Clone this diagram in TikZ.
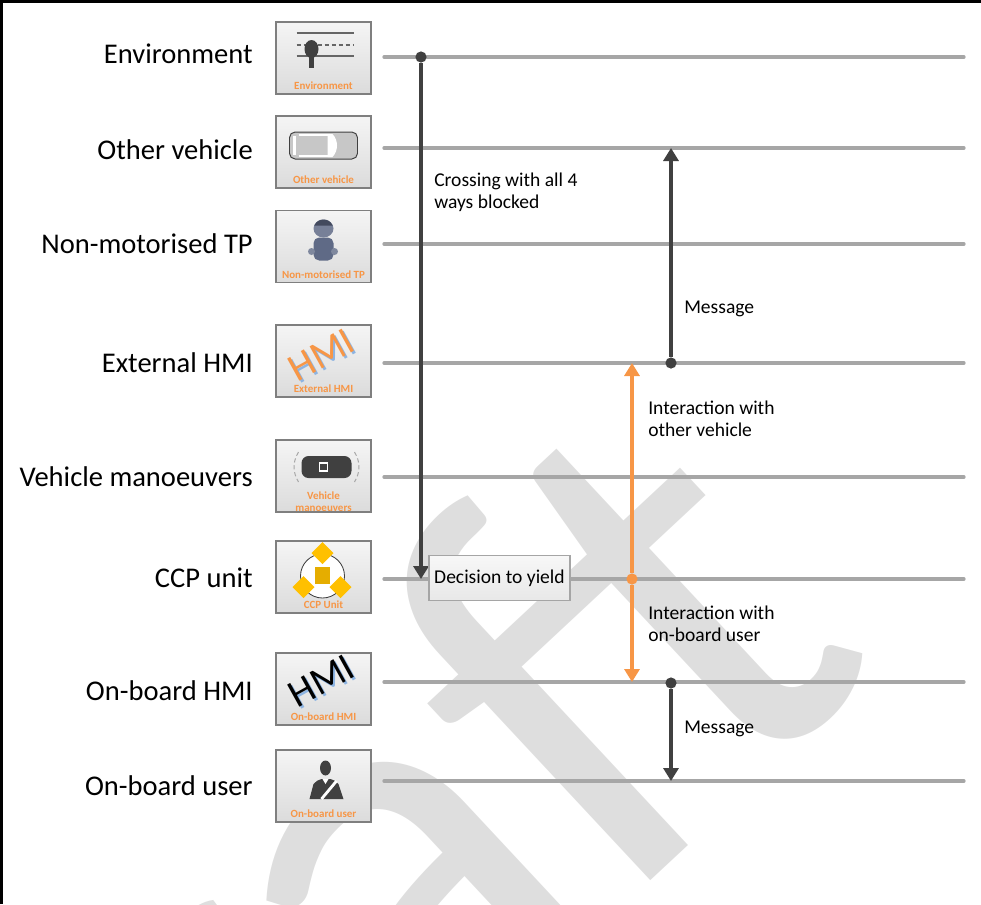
\documentclass[tikz,border=0pt]{standalone}
\usepackage{fontspec}
\setmainfont{Carlito}
\usetikzlibrary{arrows.meta,positioning}

\definecolor{lanegray}{HTML}{A6A6A6}
\definecolor{darkline}{HTML}{404040}
\definecolor{accentorange}{HTML}{F79646}
\definecolor{watergray}{HTML}{DEDEDE}
\definecolor{boxedge}{HTML}{7F7F7F}
\definecolor{ccpyellow}{HTML}{FFC000}
\definecolor{pedblue}{HTML}{5F6A86}
\definecolor{hmiblue}{HTML}{8DB4E2}

\tikzset{
  lane/.style={line width=2.3pt, color=lanegray, line cap=round},
  icobox/.style={draw=boxedge, line width=1.1pt, top color=white!96!black, bottom color=white!86!black, minimum width=2.375cm, minimum height=1.8cm, inner sep=0pt},
  lanelbl/.style={font=\fontsize{20.3}{24}\selectfont, inner sep=0pt, text height=0.7em, text depth=0pt, anchor=east},
  icolbl/.style={font=\fontsize{7.8}{8.4}\selectfont\bfseries, text=accentorange, inner sep=0pt, align=center},
  note/.style={font=\fontsize{13.9}{15.6}\selectfont, align=left, inner sep=0pt},
  hmitext/.style={font=\fontsize{28}{28}\selectfont, inner sep=0pt},
  icoline/.style={line width=0.8pt, color=darkline!80},
  darrow/.style={line width=2.7pt, color=darkline, -{Triangle[length=0.325cm,width=0.375cm]}},
  oarrow/.style={line width=2.4pt, color=accentorange, -{Triangle[length=0.325cm,width=0.375cm]}},
  ddot/.style={circle, fill=darkline, minimum size=0.28cm, inner sep=0pt},
  odot/.style={circle, fill=accentorange, minimum size=0.28cm, inner sep=0pt},
  decbox/.style={draw=boxedge!70, line width=0.9pt, top color=white!97!black, bottom color=white!91!black, minimum width=3.525cm, minimum height=1.125cm, font=\fontsize{13.9}{15.6}\selectfont},
  watermark/.style={font=\fontsize{427}{427}\selectfont, text=watergray, inner sep=0pt}
}

\begin{document}
\begin{tikzpicture}[x=0.025cm, y=-0.025cm]
  \useasboundingbox (0,0) rectangle (981,904);
  \clip (0,0) rectangle (981,904);

  % watermark behind everything
  \node[watermark, rotate=43, anchor=base east] (wm) at (885,662) {Draft};

  % frame
  \draw[line width=1.8pt] (1.3,904) -- (1.3,1.3) -- (981,1.3);

  % lanes
  \coordinate (env-l) at (384,57);  \coordinate (env-r) at (964,57);
  \coordinate (oth-l) at (384,148); \coordinate (oth-r) at (964,148);
  \coordinate (nmt-l) at (384,244); \coordinate (nmt-r) at (964,244);
  \coordinate (ext-l) at (384,363); \coordinate (ext-r) at (964,363);
  \coordinate (vm-l) at (384,477);  \coordinate (vm-r) at (964,477);
  \coordinate (ccp-l) at (384,579); \coordinate (ccp-r) at (964,579);
  \coordinate (obh-l) at (384,682); \coordinate (obh-r) at (964,682);
  \coordinate (obu-l) at (384,781); \coordinate (obu-r) at (964,781);
  \draw[lane] (env-l) -- (env-r);
  \draw[lane] (oth-l) -- (oth-r);
  \draw[lane] (nmt-l) -- (nmt-r);
  \draw[lane] (ext-l) -- (ext-r);
  \draw[lane] (vm-l) -- (vm-r);
  \draw[lane] (ccp-l) -- (ccp-r);
  \draw[lane] (obh-l) -- (obh-r);
  \draw[lane] (obu-l) -- (obu-r);

  % icon boxes
  \node[icobox] (ico-env) at (323.5,58) {};
  \node[icobox] (ico-oth) at (323.5,152) {};
  \node[icobox] (ico-nmt) at (323.5,246.5) {};
  \node[icobox] (ico-ext) at (323.5,361) {};
  \node[icobox] (ico-vm) at (323.5,476) {};
  \node[icobox] (ico-ccp) at (323.5,577) {};
  \node[icobox] (ico-obh) at (323.5,689) {};
  \node[icobox] (ico-obu) at (323.5,786) {};

  \node[icolbl, above=0.12cm of ico-env.south] (il-env) {Environment};
  \node[icolbl, above=0.12cm of ico-oth.south] (il-oth) {Other vehicle};
  \node[icolbl, above=0.12cm of ico-nmt.south] (il-nmt) {Non-motorised TP};
  \node[icolbl, above=0.12cm of ico-ext.south] (il-ext) {External HMI};
  \node[icolbl, above=0.03cm of ico-vm.south] (il-vm) {Vehicle\\manoeuvers};
  \node[icolbl, above=0.12cm of ico-ccp.south] (il-ccp) {CCP Unit};
  \node[icolbl, above=0.12cm of ico-obh.south] (il-obh) {On-board HMI};
  \node[icolbl, above=0.12cm of ico-obu.south] (il-obu) {On-board user};

  % icon pictures
  \begin{scope}[shift={(ico-env.center)}]
    \draw[icoline] (-27,-25) -- (30,-25) (-27,-2) -- (30,-2);
    \draw[icoline, dash pattern=on 3pt off 2pt] (-27,-13) -- (30,-13);
    \fill[darkline] (-12,-9) ellipse (7 and 9);
    \fill[darkline] (-15,-2) rectangle (-10,10);
  \end{scope}
  \begin{scope}[shift={(ico-oth.center)}]
    \draw[line width=0.7pt, draw=darkline, fill=white!78!black, rounded corners=4pt] (-34,-20) rectangle (34,7);
    \fill[white] (-31,-16) rectangle (-28,3);
    \fill[white] (4,-18) -- (9,-18) .. controls (15,-12) and (15,-1) .. (9,5) -- (4,5) -- cycle;
    \draw[white, line width=1.2pt] (-25,-17) -- (4,-17) (-25,4) -- (4,4);
  \end{scope}
  \begin{scope}[shift={(ico-nmt.center)}]
    \fill[pedblue, rounded corners=4pt] (-10,-9) rectangle (10,14);
    \fill[pedblue!80!white] (-12,5) circle (3.5) (11,5) circle (3.5);
    \fill[pedblue!85!white] (0,-18) ellipse (10 and 9);
    \fill[pedblue!70!black] (-9,-21) .. controls (-6,-29) and (6,-29) .. (9,-21) -- cycle;
  \end{scope}
  \begin{scope}[shift={(ico-ext.center)}]
    \node[hmitext, text=hmiblue, rotate=29] (hmi-ext-s) at (0,-4) {HMI};
    \node[hmitext, text=accentorange, rotate=29] (hmi-ext) at (-2,-6) {HMI};
  \end{scope}
  \begin{scope}[shift={(ico-vm.center)}]
    \fill[darkline, rounded corners=5pt] (-22,-20) rectangle (28,2);
    \draw[white, line width=0.8pt] (-4,-13) rectangle (4,-5);
    \draw[lanegray, line width=0.7pt, dash pattern=on 3pt off 2pt] (-25,-24) .. controls (-31,-14) and (-31,-4) .. (-25,6);
    \draw[lanegray, line width=0.7pt, dash pattern=on 3pt off 2pt] (31,-24) .. controls (37,-14) and (37,-4) .. (31,6);
  \end{scope}
  \begin{scope}[shift={(ico-ccp.center)}]
    \draw[darkline, fill=white, line width=0.6pt] (-1,-1) circle (22);
    \fill[ccpyellow] (-1,-35) -- (10,-24) -- (-1,-13) -- (-12,-24) -- cycle;
    \fill[ccpyellow] (-20,-1) -- (-9,10) -- (-20,21) -- (-31,10) -- cycle;
    \fill[ccpyellow] (17,-1) -- (28,10) -- (17,21) -- (6,10) -- cycle;
    \fill[ccpyellow!90!black] (-8.5,-10.5) rectangle (6.5,6.5);
  \end{scope}
  \begin{scope}[shift={(ico-obh.center)}]
    \node[hmitext, text=hmiblue, rotate=29] (hmi-obh-s) at (0,-6) {HMI};
    \node[hmitext, text=black, rotate=29] (hmi-obh) at (-2,-8) {HMI};
  \end{scope}
  \begin{scope}[shift={(ico-obu.center)}]
    \fill[darkline] (2,-18) ellipse (5.5 and 7.5);
    \fill[darkline] (-14,13) -- (-10,-2) .. controls (-8,-5) and (-5,-6) .. (-2,-7) -- (7,-7) .. controls (10,-6) and (13,-5) .. (15,-2) -- (20,13) -- cycle;
    \draw[white, line width=2pt] (13,-5) -- (-2,13);
    \fill[white] (-1,-7) -- (2,-2) -- (5,-7) -- cycle;
  \end{scope}

  % lane labels
  \node[lanelbl] (lbl-env) at (253,59) {Environment};
  \node[lanelbl] (lbl-oth) at (253,155) {Other vehicle};
  \node[lanelbl] (lbl-nmt) at (253,249) {Non-motorised TP};
  \node[lanelbl] (lbl-ext) at (253,368) {External HMI};
  \node[lanelbl] (lbl-vm) at (253,482) {Vehicle manoeuvers};
  \node[lanelbl] (lbl-ccp) at (253,583) {CCP unit};
  \node[lanelbl] (lbl-obh) at (253,696) {On-board HMI};
  \node[lanelbl] (lbl-obu) at (253,791) {On-board user};

  % messages
  \node[ddot] (cross-start) at (421,57) {};
  \draw[darrow] (cross-start) -- (cross-start |- ccp-l);
  \node[note, anchor=north west] (cross-lbl) at (434,173) {Crossing with all 4\\ways blocked};

  \node[ddot] (msg1-start) at (671,363) {};
  \draw[darrow] (msg1-start) -- (msg1-start |- oth-l);
  \node[note, anchor=base west] (msg1-lbl) at (684,313) {Message};

  \node[odot] (int-mid) at (632,579) {};
  \draw[oarrow] (int-mid) -- (int-mid |- ext-l);
  \draw[oarrow] (int-mid) -- (int-mid |- obh-l);
  \node[note, anchor=north west] (int1-lbl) at (648,401) {Interaction with\\other vehicle};
  \node[note, anchor=north west] (int2-lbl) at (648,606) {Interaction with\\on-board user};

  \node[ddot] (msg2-start) at (671,683) {};
  \draw[darrow] (msg2-start) -- (msg2-start |- obu-l);
  \node[note, anchor=base west] (msg2-lbl) at (684,733) {Message};

  \node[decbox] (dec) at (499.5,578) {Decision to yield};
\end{tikzpicture}
\end{document}
